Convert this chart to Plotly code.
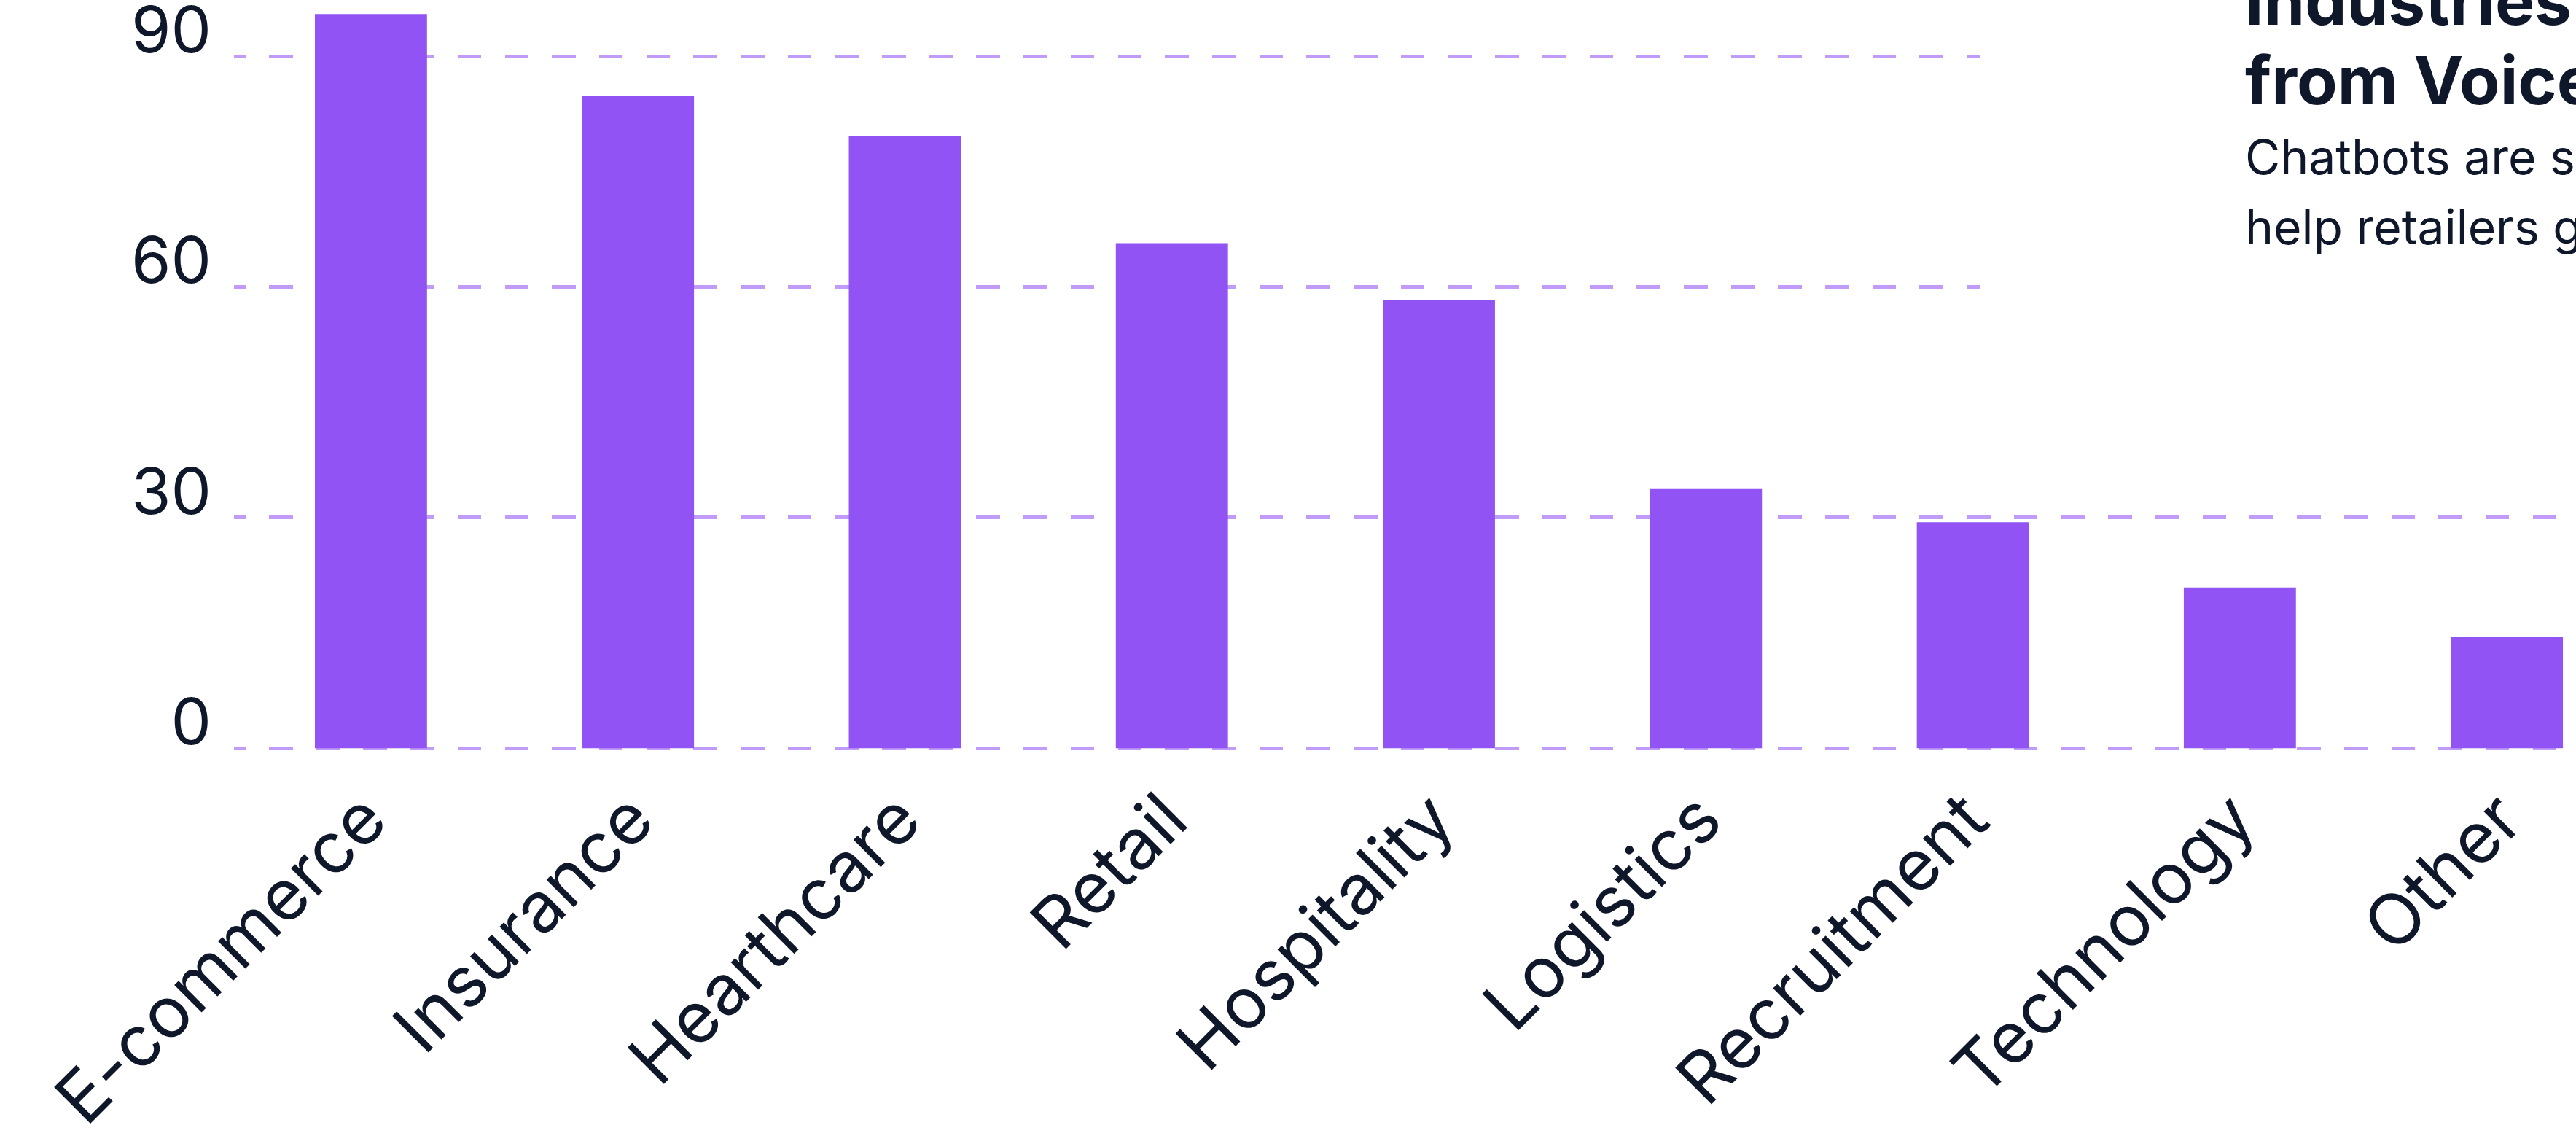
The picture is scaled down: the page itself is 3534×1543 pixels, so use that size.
import plotly.graph_objects as go

categories = ["E-commerce", "Insurance", "Hearthcare", "Retail", "Hospitality",
              "Logistics", "Recruitment", "Technology", "Other"]
values = [95.5, 84.9, 79.6, 65.7, 58.3, 33.7, 29.4, 20.9, 14.5]
y_ticks = [0, 30, 60, 90]

title_lines = ["Industries Benefiting Most", "from Voice & Chat Bots"]
subtitle_lines = ["Chatbots are set to become a key tool", "help retailers grow their sales"]

BAR = "#9153f3"
GRID = "#c09cf8"
TEXT = "#0f172a"
FONT = "Inter"

W, H = 3534, 1543
L, B = 321, 497
plot_h = H - B

fig = go.Figure()
fig.add_trace(go.Bar(x=categories, y=values, marker=dict(color=BAR, line=dict(width=0)),
                     hoverinfo="skip"))

fig.update_layout(
    width=W, height=H,
    margin=dict(l=L, r=0, t=0, b=B, pad=0),
    paper_bgcolor="white", plot_bgcolor="white",
    bargap=0.58,
    showlegend=False,
    font=dict(family=FONT, color=TEXT),
)

fig.update_xaxes(
    range=[-0.513, 8.259],
    automargin=False,
    showgrid=False, zeroline=False, showline=False, ticks="",
    tickangle=-45,
    tickfont=dict(family=FONT, size=97, color=TEXT),
    ticklabelshift=-8,
)
fig.update_yaxes(
    range=[-1.88, 97.33],
    automargin=False,
    tickvals=y_ticks,
    showgrid=True, gridcolor=GRID, gridwidth=5,
    griddash="15.8px,32.2px,16.7px,0px",
    zeroline=False, showline=False, ticks="",
    tickfont=dict(family=FONT, size=88, color=TEXT),
    ticklabelshift=-36,
    ticklabelstandoff=30,
    ticklabeloverflow="allow",
)

def px_to_paper_y(py):
    return 1 - py / plot_h

def px_to_paper_x(px):
    return (px - L) / (W - L)

# white panel behind the text block
fig.add_shape(type="rect", xref="paper", yref="paper",
              x0=px_to_paper_x(2716), x1=1.2, y0=px_to_paper_y(550), y1=1.2,
              fillcolor="white", line=dict(width=0), layer="above")

tx = px_to_paper_x(3078)
for txt, base in zip(title_lines, [33, 142]):
    fig.add_annotation(text=f"<b>{txt}</b>", xref="paper", yref="paper",
                       x=tx, y=px_to_paper_y(base - 0.35 * 91), xanchor="left", yanchor="middle",
                       showarrow=False, font=dict(family=FONT, size=91, color=TEXT), align="left")
for txt, base in zip(subtitle_lines, [238, 334]):
    fig.add_annotation(text=txt, xref="paper", yref="paper",
                       x=tx, y=px_to_paper_y(base - 0.35 * 66), xanchor="left", yanchor="middle",
                       showarrow=False, font=dict(family=FONT, size=66, color=TEXT), align="left")

fig.write_html("out.html")
